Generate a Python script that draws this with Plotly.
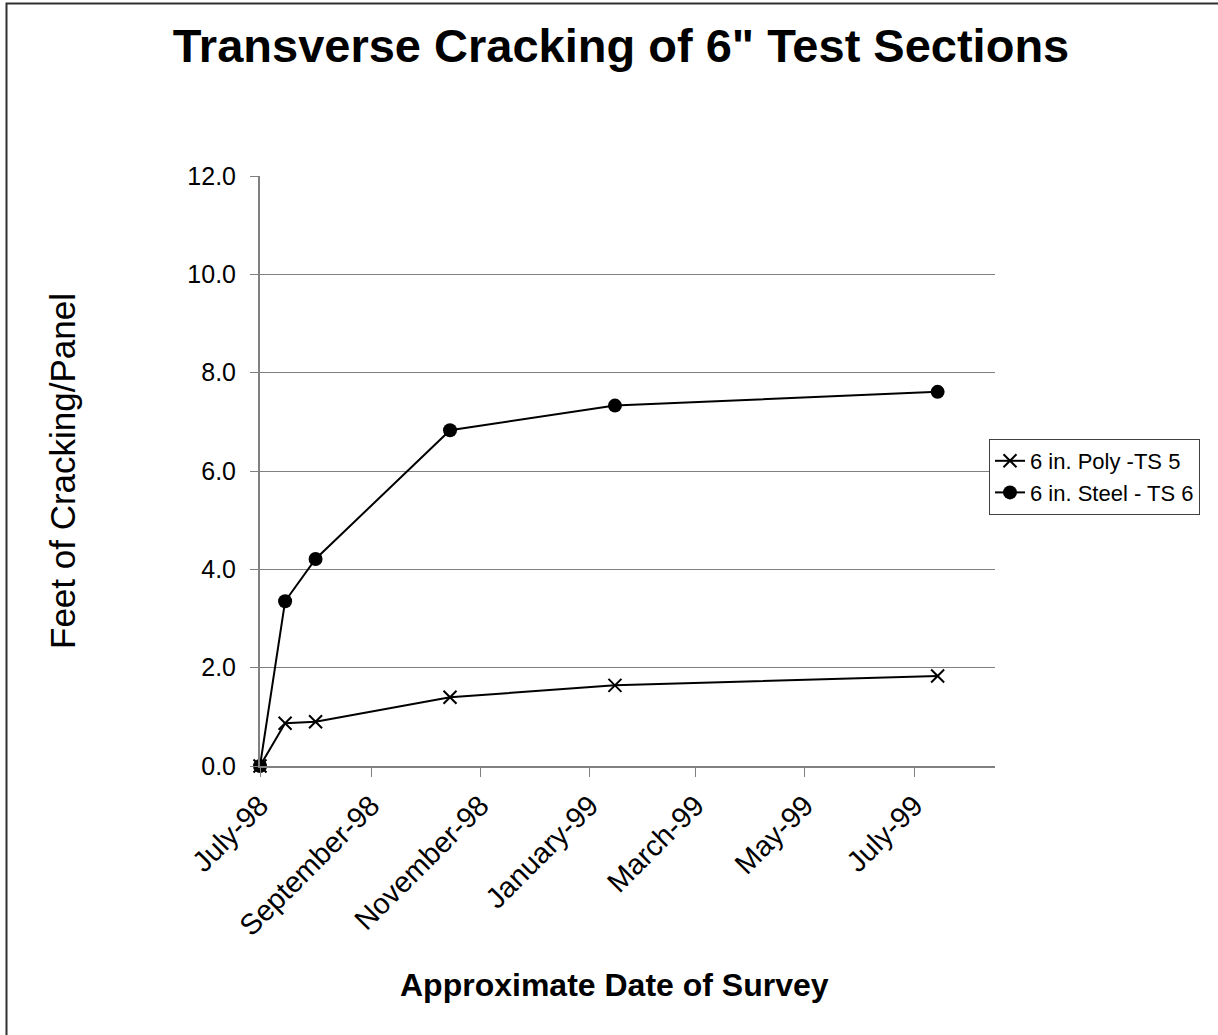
import plotly.graph_objects as go

dates = ["1998-07-01", "1998-07-15", "1998-08-01", "1998-10-15", "1999-01-15", "1999-07-14"]
poly_ts5 = [0.0, 0.87, 0.90, 1.40, 1.64, 1.83]
steel_ts6 = [0.0, 3.35, 4.21, 6.83, 7.33, 7.61]

tick_dates = ["1998-07-01", "1998-09-01", "1998-11-01", "1999-01-01", "1999-03-01", "1999-05-01", "1999-07-01"]
tick_labels = ["July-98", "September-98", "November-98", "January-99", "March-99", "May-99", "July-99"]
y_ticks = [0, 2, 4, 6, 8, 10, 12]

W, H = 1218, 1035
L, R, T, B = 260, 995, 176, 766

fig = go.Figure()
fig.add_trace(go.Scatter(
    x=dates, y=poly_ts5, mode="lines+markers", name="6 in. Poly -TS 5",
    line=dict(color="black", width=2),
    marker=dict(symbol="x-thin", size=13, color="black", line=dict(color="black", width=2)),
    cliponaxis=False,
))
fig.add_trace(go.Scatter(
    x=dates, y=steel_ts6, mode="lines+markers", name="6 in. Steel - TS 6",
    line=dict(color="black", width=2),
    marker=dict(symbol="circle", size=14, color="black"),
    cliponaxis=False,
))

pw, ph = R - L, B - T
def px(x):
    return (x - L) / pw
def py(y):
    return (B - y) / ph

fig.update_layout(
    width=W, height=H,
    margin=dict(l=L, r=W - R, t=T, b=H - B),
    paper_bgcolor="white", plot_bgcolor="white",
    font=dict(family="Liberation Sans, Arial, sans-serif", color="black"),
    title=dict(text="<b>Transverse Cracking of 6\" Test Sections</b>",
               x=621 / W, xanchor="center", y=1 - 46 / H, yanchor="middle",
               font=dict(size=47, color="black")),
    showlegend=True,
    legend=dict(x=px(989), xanchor="left", y=py(477), yanchor="middle",
                bordercolor="#404040", borderwidth=1, bgcolor="white",
                font=dict(size=22, color="black"), tracegroupgap=0,
                itemwidth=30),
    xaxis=dict(type="date", range=["1998-07-01", "1999-08-15"],
               tickvals=tick_dates, ticktext=tick_labels, tickangle=-45,
               showgrid=False, zeroline=False,
               showline=True, linecolor="#808080", linewidth=2,
               ticks="outside", ticklen=9, tickcolor="#808080", tickwidth=1,
               ticklabelstandoff=0,
               tickfont=dict(size=29, color="black")),
    yaxis=dict(range=[0, 12], tickvals=y_ticks, tickformat=".1f",
               showgrid=True, gridcolor="#808080", gridwidth=1, zeroline=False,
               showline=True, linecolor="#808080", linewidth=2,
               ticks="outside", ticklen=8, tickcolor="#808080", tickwidth=1,
               ticklabelstandoff=9,
               tickfont=dict(size=25, color="black")),
    annotations=[
        dict(text="Feet of Cracking/Panel", xref="paper", yref="paper",
             x=px(62), y=py(471), xanchor="center", yanchor="middle",
             textangle=-90, showarrow=False, font=dict(size=35, color="black")),
        dict(text="<b>Approximate Date of Survey</b>", xref="paper", yref="paper",
             x=px(614), y=py(985), xanchor="center", yanchor="middle",
             showarrow=False, font=dict(size=32, color="black")),
    ],
    shapes=[
        dict(type="rect", xref="paper", yref="paper",
             x0=px(6.5), x1=px(1240), y0=py(3.5), y1=py(1060),
             line=dict(color="#303030", width=2), fillcolor="rgba(0,0,0,0)", layer="below"),
    ],
)

fig.write_html("out.html", config={"displayModeBar": False},
               post_script="document.body.style.margin='0';document.body.style.overflow='hidden';")
